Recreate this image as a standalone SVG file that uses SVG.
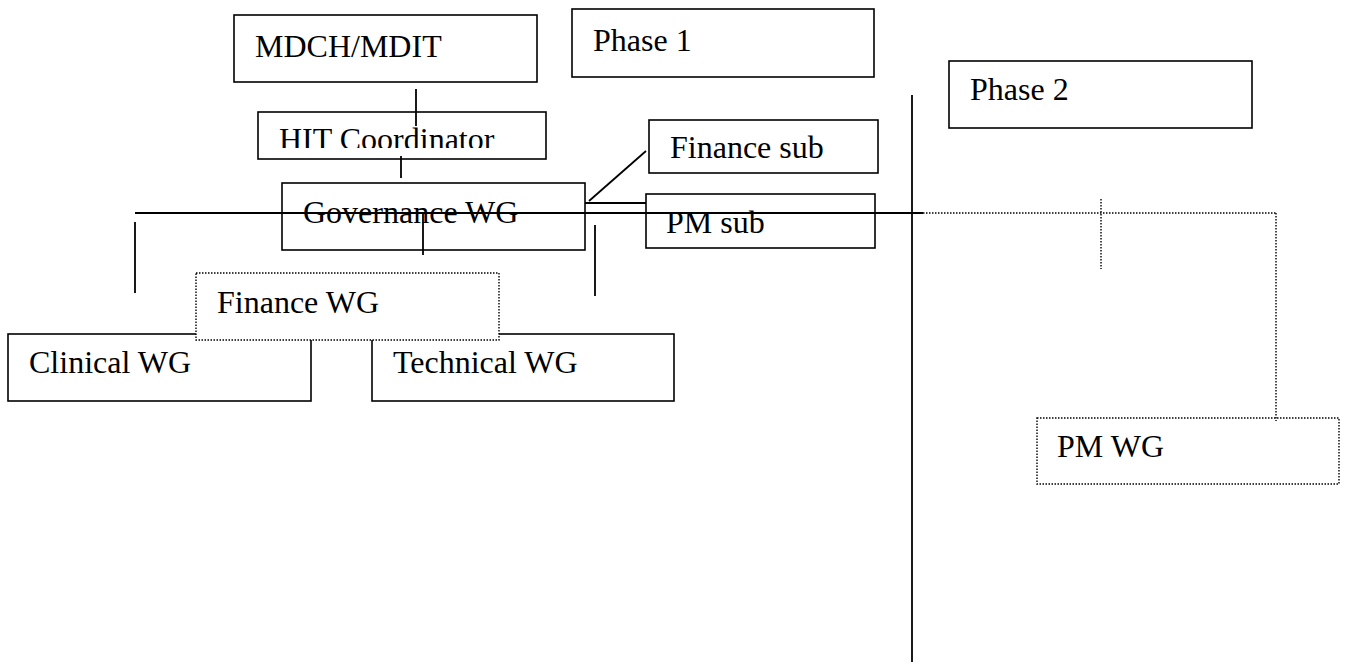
<svg xmlns="http://www.w3.org/2000/svg" width="1347" height="665" viewBox="0 0 1347 665">
<style>
.box{fill:#fff;stroke:#000;stroke-width:1.6}
.dbox{fill:#fff;stroke:#000;stroke-width:1.4;stroke-dasharray:1.5 1.5}
.ln{stroke:#000;stroke-width:1.8;fill:none}
.dl{stroke:#000;stroke-width:1.4;fill:none;stroke-dasharray:1.5 1.5}
text{font-family:"Liberation Serif","Times New Roman",serif;font-size:32px;fill:#000}
</style>
<defs>
<clipPath id="hitclip"><rect x="258" y="112" width="288" height="36"/></clipPath>
</defs>
<rect width="1347" height="665" fill="#fff"/>
<g id="mdch"><rect class="box" x="234" y="15" width="303" height="67"/><text x="255" y="57">MDCH/MDIT</text></g>
<g id="phase1"><rect class="box" x="572" y="9" width="302" height="68"/><text x="593" y="51">Phase 1</text></g>
<g id="phase2"><rect class="box" x="949" y="61" width="303" height="67"/><text x="970" y="100">Phase 2</text></g>
<g id="hit"><rect class="box" x="258" y="112" width="288" height="47"/><text x="279" y="150" clip-path="url(#hitclip)">HIT Coordinator</text></g>
<g id="finsub"><rect class="box" x="649" y="120" width="229" height="53"/><text x="670" y="158">Finance sub</text></g>
<g id="gov"><rect class="box" x="282" y="183" width="303" height="67"/><text x="303" y="223">Governance WG</text></g>
<g id="pmsub"><rect class="box" x="646" y="194" width="229" height="54"/><text x="666" y="233">PM sub</text></g>
<g id="clinical"><rect class="box" x="8" y="334" width="303" height="67"/><text x="29" y="373">Clinical WG</text></g>
<g id="technical"><rect class="box" x="372" y="334" width="302" height="67"/><text x="393" y="373">Technical WG</text></g>
<g id="finwg"><rect class="dbox" x="196" y="273" width="303" height="67"/><text x="217" y="313">Finance WG</text></g>
<g id="pmwg"><rect class="dbox" x="1037" y="418" width="302" height="66"/><text x="1057" y="457">PM WG</text></g>
<g id="connectors">
<line class="ln" x1="416" y1="89" x2="416" y2="126"/>
<line class="ln" x1="401" y1="156" x2="401" y2="178"/>
<line class="ln" x1="135" y1="213" x2="923" y2="213"/>
<line class="dl" x1="923" y1="213" x2="1276" y2="213"/>
<line class="dl" x1="1276" y1="213" x2="1276" y2="421"/>
<line class="dl" x1="1101" y1="199" x2="1101" y2="269"/>
<line class="ln" x1="135" y1="222" x2="135" y2="293"/>
<line class="ln" x1="423" y1="213" x2="423" y2="255"/>
<line class="ln" x1="595" y1="225" x2="595" y2="296"/>
<line class="ln" x1="585" y1="203" x2="646" y2="203"/>
<line class="ln" x1="589" y1="201" x2="646" y2="151"/>
<line class="ln" x1="912" y1="95" x2="912" y2="662"/>
</g>
</svg>
